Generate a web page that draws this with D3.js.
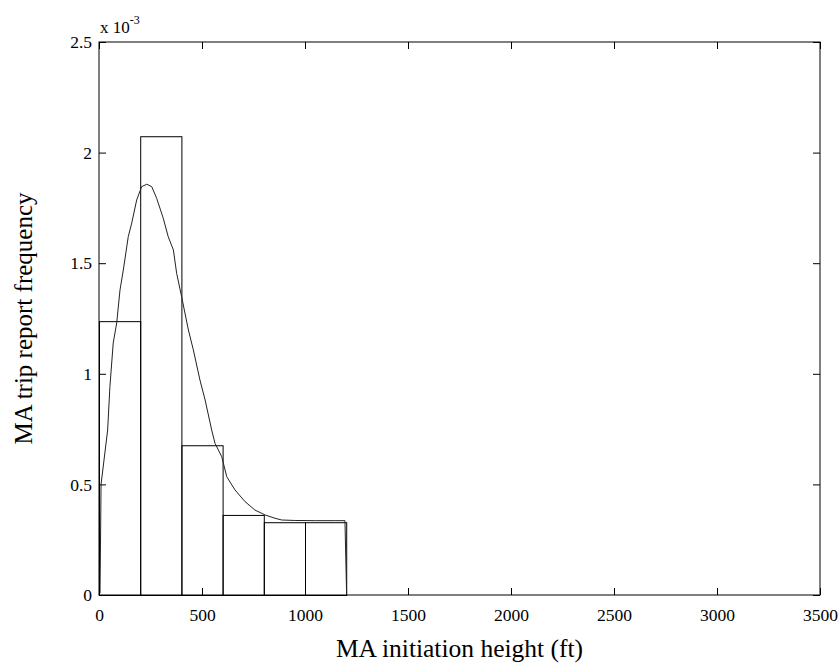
<!DOCTYPE html>
<html>
<head>
<meta charset="utf-8">
<script src="https://cdn.jsdelivr.net/npm/d3@7"></script>
<style>
  body { margin: 0; background: #fff; }
  svg text { font-family: "Liberation Serif", "Times New Roman", serif; fill: #000; }
</style>
</head>
<body>
<div id="chart"></div>
<script>
// histogram bins (ft) and heights (x 1e-3)
const binEdges = [0, 200, 400, 600, 800, 1000, 1200];
const binHeights = [1.238, 2.074, 0.677, 0.362, 0.329, 0.329];

// smoothed density curve
const curveX = [0, 5, 10, 42, 53, 69, 86, 102, 118, 142, 159, 183, 207, 232, 256, 280, 312, 336, 361, 377,
  401, 434, 458, 490, 515, 547, 563, 596, 620, 660, 709, 757, 806, 854, 887, 950, 1050, 1150, 1194, 1202];
const curveY = [0, 0.01, 0.5, 0.746, 0.942, 1.139, 1.23, 1.379, 1.469, 1.62, 1.682, 1.786, 1.846, 1.857, 1.846,
  1.793, 1.703, 1.62, 1.56, 1.454, 1.349, 1.198, 1.108, 0.972, 0.882, 0.746, 0.686, 0.625, 0.535, 0.475,
  0.422, 0.384, 0.362, 0.347, 0.339, 0.337, 0.336, 0.336, 0.336, 0];

const xTicks = [0, 500, 1000, 1500, 2000, 2500, 3000, 3500];
const yTicks = [0, 0.5, 1, 1.5, 2, 2.5];

const width = 839, height = 666;
const margin = { top: 42, right: 19, bottom: 71, left: 99 };

const svg = d3.select("#chart").append("svg")
  .attr("width", width)
  .attr("height", height);

const x = d3.scaleLinear().domain([0, 3500]).range([margin.left, width - margin.right]);
const y = d3.scaleLinear().domain([0, 2.5]).range([height - margin.bottom, margin.top]);

const bins = binHeights.map((h, i) => ({ x0: binEdges[i], x1: binEdges[i + 1], h }));

svg.append("g").selectAll("rect")
  .data(bins)
  .join("rect")
  .attr("x", d => x(d.x0) + 0.5)
  .attr("y", d => y(d.h) + 0.5)
  .attr("width", d => x(d.x1) - x(d.x0))
  .attr("height", d => y(0) - y(d.h))
  .attr("fill", "none")
  .attr("stroke", "#000")
  .attr("stroke-width", 1);

const pts = curveX.map((v, i) => [v, curveY[i]]);
svg.append("path")
  .datum(pts)
  .attr("fill", "none")
  .attr("stroke", "#222")
  .attr("stroke-width", 1)
  .attr("d", d3.line().x(d => x(d[0])).y(d => y(d[1])));

// axes, MATLAB style: ticks inside, box all round
const tickLen = 7;
svg.append("g")
  .attr("transform", `translate(0,${y(0)})`)
  .call(d3.axisBottom(x).tickValues(xTicks).tickSize(-tickLen).tickPadding(14).tickFormat(d3.format("d")))
  .call(g => g.select(".domain").remove())
  .call(g => g.selectAll("text").style("font-size", "17.5px"));

svg.append("g")
  .attr("transform", `translate(0,${y(2.5)})`)
  .call(d3.axisTop(x).tickValues(xTicks).tickSize(-tickLen).tickFormat(""))
  .call(g => g.select(".domain").remove());

svg.append("g")
  .attr("transform", `translate(${x(0)},0)`)
  .call(d3.axisLeft(y).tickValues(yTicks).tickSize(-tickLen).tickPadding(7).tickFormat(d => d))
  .call(g => g.select(".domain").remove())
  .call(g => g.selectAll("text").style("font-size", "17.5px"));

svg.append("g")
  .attr("transform", `translate(${x(3500)},0)`)
  .call(d3.axisRight(y).tickValues(yTicks).tickSize(-tickLen).tickFormat(""))
  .call(g => g.select(".domain").remove());

svg.append("rect")
  .attr("x", x(0))
  .attr("y", y(2.5))
  .attr("width", x(3500) - x(0))
  .attr("height", y(0) - y(2.5))
  .attr("fill", "none")
  .attr("stroke", "#000")
  .attr("stroke-width", 1);

// exponent label
const expo = svg.append("text")
  .attr("x", x(0) + 1)
  .attr("y", margin.top - 9)
  .style("font-size", "17px");
expo.append("tspan").text("x 10");
expo.append("tspan").attr("dy", -9).style("font-size", "12px").text("-3");

svg.append("text")
  .attr("x", (x(0) + x(3500)) / 2)
  .attr("y", 657)
  .attr("text-anchor", "middle")
  .style("font-size", "25.5px")
  .text("MA initiation height (ft)");

svg.append("text")
  .attr("transform", `translate(32,${(y(0) + y(2.5)) / 2}) rotate(-90)`)
  .attr("text-anchor", "middle")
  .style("font-size", "25px")
  .text("MA trip report frequency");
</script>
</body>
</html>
